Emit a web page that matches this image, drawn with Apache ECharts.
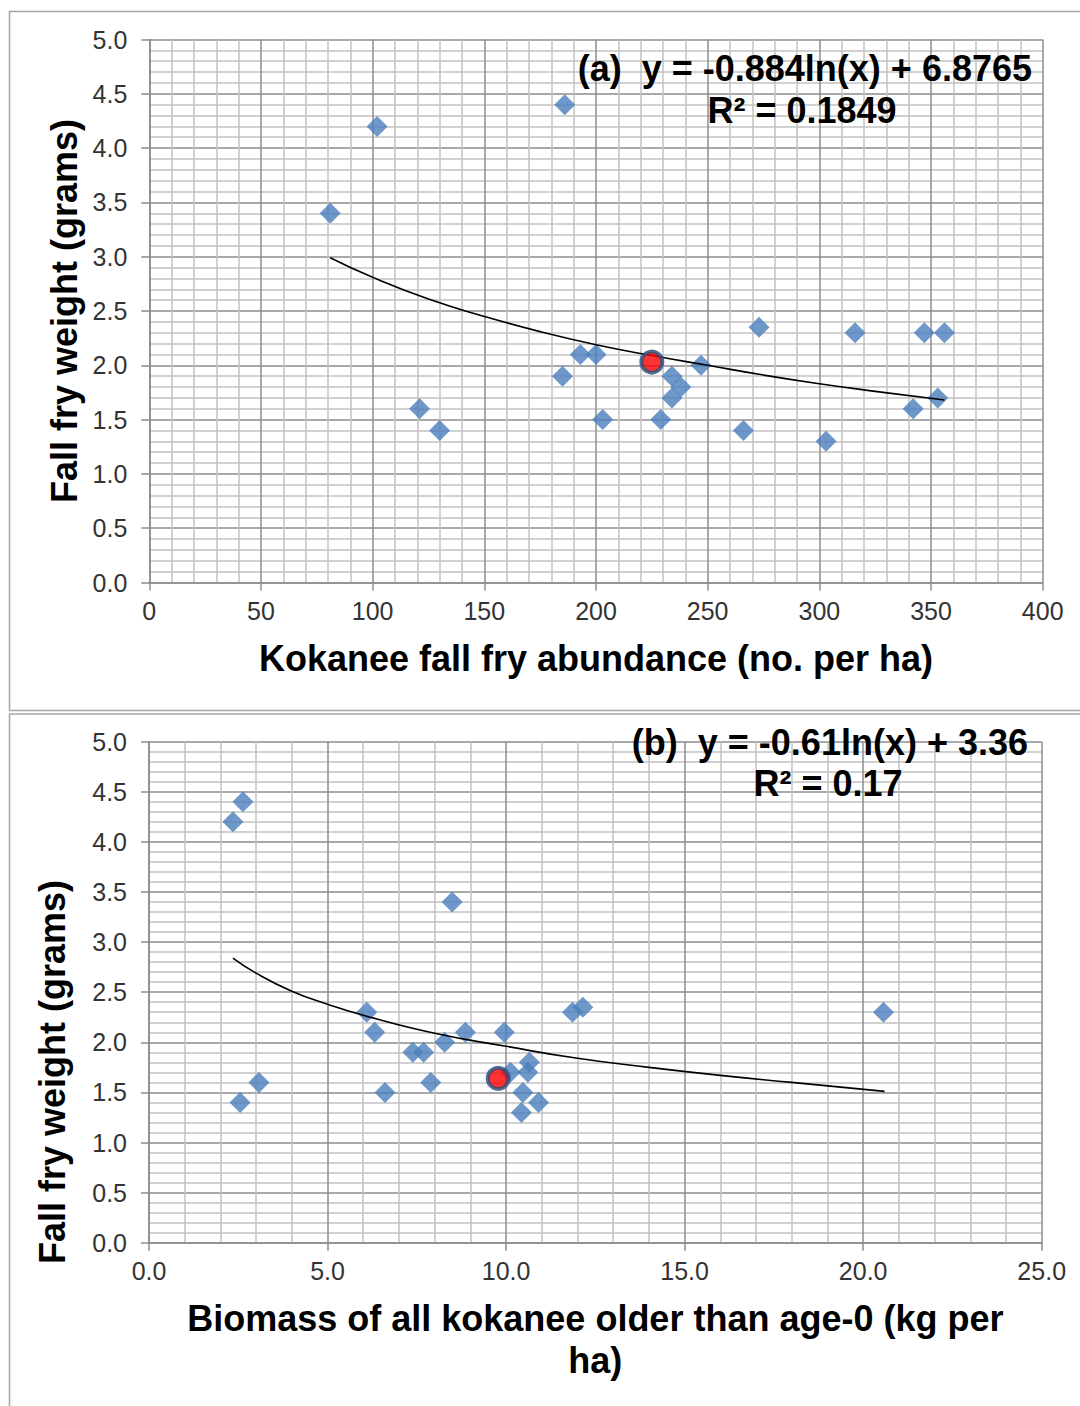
<!DOCTYPE html>
<html><head><meta charset="utf-8">
<script src="https://cdn.jsdelivr.net/npm/echarts@6.0.0/dist/echarts.min.js"></script>
<style>html,body{margin:0;padding:0;background:#fff}#c{width:1080px;height:1406px}</style>
</head><body><div id="c"></div>
<script>
// Panel (a): fall fry abundance vs weight
const abundanceA = [81,102,186,121,130,185,193,200,203,234,238,234,229,247,266,273,303,316,342,347,353,356];
const weightA    = [3.4,4.2,4.4,1.6,1.4,1.9,2.1,2.1,1.5,1.9,1.8,1.7,1.5,2.0,1.4,2.35,1.3,2.3,1.6,2.3,1.7,2.3];
const highlightAx = [225];
const highlightAy = [2.03];
// trend line (a)
const trendAx = [81,100,125,150,175,200,225,250,275,300,325,356];
const trendAy = [2.99,2.81,2.61,2.45,2.31,2.19,2.09,2.0,1.91,1.83,1.76,1.68];

// Panel (b): biomass of older kokanee vs weight
const biomassB = [2.35,2.63,2.55,3.08,8.49,6.1,6.32,7.39,7.69,8.28,6.61,7.89,8.86,9.95,10.12,10.65,10.61,10.47,10.91,10.43,11.86,12.15,20.57];
const weightB  = [4.2,4.4,1.4,1.6,3.4,2.3,2.1,1.9,1.9,2.0,1.5,1.6,2.1,2.1,1.7,1.8,1.7,1.5,1.4,1.3,2.3,2.35,2.3];
const highlightBx = [9.78];
const highlightBy = [1.64];
const trendBx = [2.35,3,4,5,6,8,10,12,14,16,18,20.6];
const trendBy = [2.84,2.69,2.51,2.38,2.27,2.09,1.96,1.84,1.75,1.67,1.6,1.51];

const eqA1 = '(a)  y = -0.884ln(x) + 6.8765';
const eqA2 = 'R² = 0.1849';
const eqB1 = '(b)  y = -0.61ln(x) + 3.36';
const eqB2 = 'R² = 0.17';
const xTitleA = 'Kokanee fall fry abundance (no. per ha)';
const xTitleB = 'Biomass of all kokanee older than age-0 (kg per\nha)';
const yTitle = 'Fall fry weight (grams)';

const zip = (a, b) => a.map((v, i) => [v, b[i]]);
const FONT = '"Liberation Sans", Arial, sans-serif';
const AX = '#8c8c8c';
const TF = 'bold 36px ' + FONT;

function xAxis(idx, max, interval, fmt, name) {
  return {
    type: 'value', gridIndex: idx, min: 0, max: max, interval: interval,
    axisLine: {show: true, onZero: false, lineStyle: {color: AX, width: 1.5}},
    axisTick: {show: true, length: 8, lineStyle: {color: AX, width: 1.5}},
    axisLabel: {fontFamily: FONT, fontSize: 25, color: '#333', margin: 16, formatter: fmt},
    splitLine: {show: true, lineStyle: {color: AX, width: 1.5}},
    minorTick: {show: false, splitNumber: 5},
    minorSplitLine: {show: true, lineStyle: {color: '#c2c2c2', width: 1.5}},
    name: name, nameLocation: 'middle', nameGap: 55,
    nameTextStyle: {fontFamily: FONT, fontSize: 36, fontWeight: 'bold', color: '#000', lineHeight: 42}
  };
}
function yAxis(idx) {
  return {
    type: 'value', gridIndex: idx, min: 0, max: 5, interval: 0.5,
    axisLine: {show: true, onZero: false, lineStyle: {color: AX, width: 1.5}},
    axisTick: {show: true, length: 8, lineStyle: {color: AX, width: 1.5}},
    axisLabel: {fontFamily: FONT, fontSize: 25, color: '#333', margin: 22, formatter: v => v.toFixed(1)},
    splitLine: {show: true, lineStyle: {color: AX, width: 1.5}},
    minorTick: {show: false, splitNumber: 5},
    minorSplitLine: {show: true, lineStyle: {color: '#c2c2c2', width: 1.5}}
  };
}
function seriesFor(idx, pts, hl, tr) {
  return [
    {type: 'scatter', xAxisIndex: idx, yAxisIndex: idx, data: pts, symbol: 'diamond', symbolSize: 21,
     itemStyle: {color: '#4a7ebb'}, z: 2, silent: true},
    {type: 'line', xAxisIndex: idx, yAxisIndex: idx, data: tr, smooth: true, symbol: 'none',
     lineStyle: {color: '#000', width: 1.6}, z: 3, silent: true},
    {type: 'scatter', xAxisIndex: idx, yAxisIndex: idx, data: hl, symbol: 'circle', symbolSize: 21,
     itemStyle: {color: '#ff0000', borderColor: '#2b4c7c', borderWidth: 4}, z: 4, silent: true}
  ];
}

const chart = echarts.init(document.getElementById('c'), null, {renderer: 'svg', width: 1080, height: 1406});
chart.setOption({
  backgroundColor: '#fff',
  animation: false,
  grid: [
    {left: 149.3, top: 39.5, width: 893.4, height: 543},
    {left: 149, top: 741.7, width: 892.7, height: 501}
  ],
  xAxis: [
    xAxis(0, 400, 50, v => String(v), xTitleA),
    xAxis(1, 25, 5, v => v.toFixed(1), xTitleB)
  ],
  yAxis: [yAxis(0), yAxis(1)],
  series: [].concat(
    seriesFor(0, zip(abundanceA, weightA), zip(highlightAx, highlightAy), zip(trendAx, trendAy)),
    seriesFor(1, zip(biomassB, weightB), zip(highlightBx, highlightBy), zip(trendBx, trendBy))
  ),
  graphic: [
    {type: 'rect', shape: {x: 9.5, y: 11.5, width: 1100, height: 699}, style: {fill: 'none', stroke: '#a6a6a6', lineWidth: 1.5}, z: 0},
    {type: 'rect', shape: {x: 9.5, y: 714, width: 1100, height: 720}, style: {fill: 'none', stroke: '#a6a6a6', lineWidth: 1.5}, z: 0},
    {type: 'text', x: 64, y: 311, rotation: Math.PI / 2, style: {text: yTitle, font: TF, fill: '#000', align: 'center', verticalAlign: 'middle'}, z: 10},
    {type: 'text', x: 52, y: 1072, rotation: Math.PI / 2, style: {text: yTitle, font: TF, fill: '#000', align: 'center', verticalAlign: 'middle'}, z: 10},
    {type: 'text', x: 1032, y: 68, style: {text: eqA1, font: TF, fill: '#000', align: 'right', verticalAlign: 'middle'}, z: 10},
    {type: 'text', x: 802, y: 110, style: {text: eqA2, font: TF, fill: '#000', align: 'center', verticalAlign: 'middle'}, z: 10},
    {type: 'text', x: 1028, y: 742, style: {text: eqB1, font: TF, fill: '#000', align: 'right', verticalAlign: 'middle'}, z: 10},
    {type: 'text', x: 828, y: 783, style: {text: eqB2, font: TF, fill: '#000', align: 'center', verticalAlign: 'middle'}, z: 10}
  ]
});
</script>
</body></html>
